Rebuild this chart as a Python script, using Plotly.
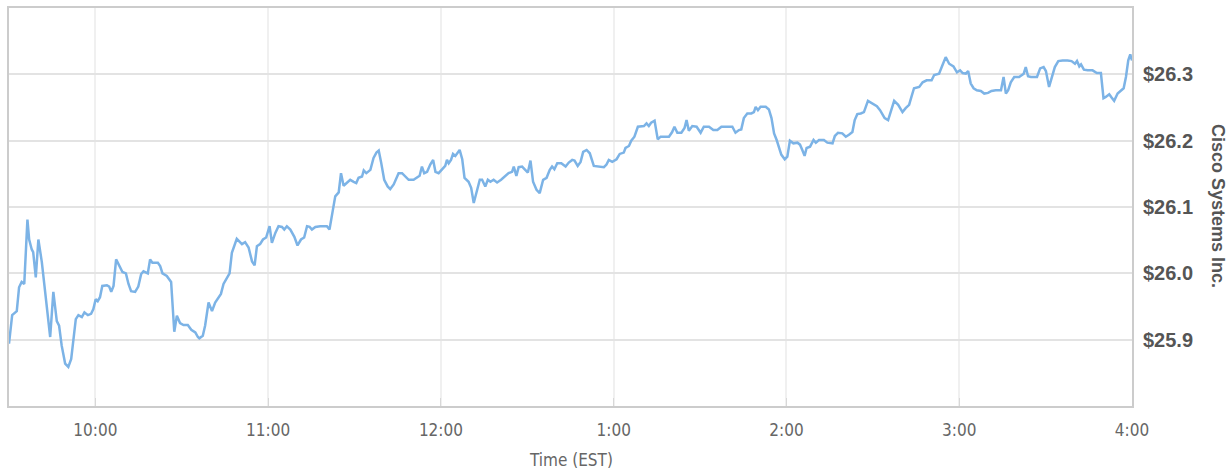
import plotly.graph_objects as go
import pandas as pd

# minutes after the 9:30 open, and Cisco price
minutes_a = [0, 1.1, 2.7, 3.5, 4.4, 5.3, 6.4, 7.0, 7.9, 8.4, 9.3, 10.2, 11.4, 13.1, 14.3, 15.4, 16.6, 17.4, 18.3, 19.5,
             20.6, 21.6, 22.3, 23.2, 24.1, 25.3, 26.2, 27.4, 28.5, 29.3, 30.1, 30.8, 31.6, 32.4, 34.0, 34.8, 35.5, 36.3,
             37.2, 38.6, 39.4, 40.6, 41.5, 42.4, 43.8, 44.9, 45.9, 46.7, 48.2, 49.0, 49.8, 51.7, 52.5, 53.3, 54.8, 56.3,
             56.8, 57.4, 58.3, 59.4, 60.6, 62.1, 63.3, 64.7, 65.6]
price_a = [25.894, 25.937, 25.943, 25.979, 25.987, 25.984, 26.081, 26.051, 26.036, 26.032, 25.994, 26.051, 26.017,
           25.946, 25.904, 25.972, 25.928, 25.921, 25.891, 25.864, 25.859, 25.871, 25.896, 25.931, 25.937, 25.934,
           25.941, 25.937, 25.939, 25.946, 25.961, 25.958, 25.964, 25.981, 25.982, 25.980, 25.972, 25.981, 26.021,
           26.009, 26.002, 26.000, 25.984, 25.973, 25.972, 25.980, 25.999, 26.003, 26.000, 26.021, 26.016, 26.016,
           26.011, 26.000, 25.996, 25.987, 25.946, 25.912, 25.936, 25.925, 25.922, 25.922, 25.915, 25.911, 25.904]

minutes_b = [66.1, 67.3, 68.1, 69.3, 70.5, 71.6, 72.7, 73.6, 74.5, 75.9, 76.6, 77.4, 79.1, 80.9, 82.0, 83.2, 84.4, 85.3,
             86.1, 87.2, 88.2, 89.3, 90.5, 91.3, 92.5, 93.6, 94.8, 95.6, 96.5, 97.7, 99.1, 100.2, 101.4, 102.5, 103.5,
             104.4, 105.2, 106.4, 108.1, 110.4, 111.3, 112.5, 113.3, 114.5, 115.3, 116.2, 117.4, 118.5, 119.7, 120.6,
             121.4, 122.6, 123.2, 124.1, 125.5, 126.6, 127.6, 128.4, 129.2, 130.3, 131.5, 132.4]
price_b = [25.902, 25.906, 25.921, 25.956, 25.943, 25.956, 25.964, 25.969, 25.984, 25.996, 26.000, 26.031, 26.052,
           26.044, 26.047, 26.039, 26.018, 26.012, 26.041, 26.044, 26.051, 26.054, 26.071, 26.046, 26.061, 26.071,
           26.070, 26.066, 26.071, 26.066, 26.055, 26.042, 26.051, 26.054, 26.071, 26.070, 26.066, 26.070, 26.071,
           26.071, 26.066, 26.096, 26.116, 26.122, 26.151, 26.132, 26.136, 26.141, 26.138, 26.136, 26.144, 26.146,
           26.155, 26.151, 26.156, 26.174, 26.182, 26.185, 26.168, 26.141, 26.131, 26.127]

minutes_c = [133.6, 135.3, 136.5, 137.6, 138.8, 140.5, 141.7, 142.6, 143.4, 144.2, 145.2, 146.3, 147.3, 148.1, 149.2,
             150.4, 151.5, 152.1, 152.7, 153.5, 154.2, 155.0, 155.8, 156.5, 157.4, 158.2, 159.6, 160.5, 161.4, 162.6,
             163.5, 164.3, 165.4, 166.3, 167.2, 168.3, 169.5, 170.9, 172.1, 173.5, 174.7, 175.3, 176.2, 177.0, 178.2,
             179.4, 180.2, 181.1, 182.0, 183.2, 184.3, 185.5, 186.7, 187.8, 188.6, 189.4, 190.4, 191.8]
price_c = [26.134, 26.151, 26.151, 26.146, 26.141, 26.141, 26.144, 26.147, 26.161, 26.151, 26.153, 26.164, 26.171,
           26.153, 26.151, 26.156, 26.162, 26.171, 26.166, 26.171, 26.180, 26.177, 26.181, 26.186, 26.172, 26.144,
           26.138, 26.129, 26.106, 26.126, 26.141, 26.141, 26.131, 26.141, 26.138, 26.141, 26.137, 26.141, 26.146,
           26.151, 26.153, 26.161, 26.147, 26.160, 26.161, 26.156, 26.152, 26.170, 26.138, 26.126, 26.121, 26.141,
           26.144, 26.156, 26.161, 26.157, 26.166, 26.166]

minutes_d = [193.3, 194.4, 195.6, 196.4, 197.5, 198.5, 199.4, 200.6, 201.7, 203.1, 204.8, 206.6, 207.5, 208.3, 209.5,
             211.0, 212.1, 213.5, 214.1, 215.3, 216.1, 217.2, 218.4, 219.6, 220.5, 221.4, 222.2, 223.0, 224.2, 225.3,
             226.3, 228.0, 229.2, 230.3, 231.1, 232.1, 233.5, 234.6, 235.3, 236.1, 237.3, 238.8, 240.2, 241.3, 243.1,
             244.6, 246.0, 247.4, 249.5, 251.2, 252.3, 253.5, 254.3, 255.2, 256.4, 257.8, 258.7, 259.3, 260.1, 261.0,
             262.8, 263.9, 264.8]
price_d = [26.161, 26.167, 26.171, 26.170, 26.162, 26.168, 26.183, 26.186, 26.181, 26.162, 26.161, 26.160, 26.164,
           26.171, 26.168, 26.172, 26.180, 26.182, 26.189, 26.192, 26.200, 26.206, 26.221, 26.221, 26.222, 26.226,
           26.222, 26.227, 26.230, 26.202, 26.206, 26.206, 26.206, 26.213, 26.221, 26.212, 26.212, 26.219, 26.231,
           26.215, 26.222, 26.221, 26.212, 26.221, 26.221, 26.216, 26.216, 26.221, 26.221, 26.221, 26.212, 26.216,
           26.217, 26.234, 26.241, 26.241, 26.243, 26.251, 26.246, 26.251, 26.251, 26.247, 26.234]

minutes_e = [265.7, 266.6, 267.4, 268.2, 269.4, 270.3, 271.2, 272.4, 273.8, 274.7, 275.5, 276.3, 277.0, 278.2, 279.4,
             280.2, 281.3, 283.0, 284.2, 286.0, 286.8, 287.9, 289.4, 290.6, 291.7, 292.9, 293.7, 294.6, 295.8, 296.9,
             298.3, 299.9, 301.4, 302.5, 304.1, 305.3, 306.2, 307.4, 308.8, 310.3, 311.4, 312.6, 313.4, 314.3, 316.1,
             317.3, 318.7, 320.4, 321.3, 323.0, 324.2, 325.3, 326.5, 328.0, 329.2, 330.3]
price_e = [26.211, 26.201, 26.191, 26.179, 26.172, 26.176, 26.200, 26.196, 26.197, 26.194, 26.186, 26.177, 26.189,
           26.191, 26.201, 26.197, 26.201, 26.201, 26.197, 26.196, 26.207, 26.212, 26.211, 26.206, 26.209, 26.213,
           26.231, 26.240, 26.241, 26.243, 26.260, 26.256, 26.252, 26.246, 26.234, 26.231, 26.243, 26.260, 26.254,
           26.243, 26.249, 26.254, 26.266, 26.279, 26.281, 26.288, 26.291, 26.291, 26.299, 26.301, 26.314, 26.326,
           26.316, 26.312, 26.303, 26.306]

minutes_f = [331.2, 332.3, 333.1, 334.0, 335.0, 336.1, 337.5, 338.7, 340.0, 341.2, 342.7, 344.5, 345.4, 346.2, 347.0,
             347.9, 349.1, 350.8, 352.4, 353.1, 353.9, 354.9, 357.0, 358.1, 359.3, 360.1, 361.2, 362.1, 363.2, 364.4,
             365.9, 367.6, 369.0, 370.2, 370.9, 371.7, 372.3, 373.3, 374.6, 376.3, 377.8, 379.2, 380.1, 380.9, 382.1,
             382.9, 383.8, 385.0, 386.2, 387.1, 387.9, 388.7, 389.4, 390.0]
price_f = [26.302, 26.301, 26.305, 26.286, 26.279, 26.276, 26.275, 26.271, 26.272, 26.275, 26.276, 26.276, 26.296,
           26.271, 26.276, 26.288, 26.296, 26.296, 26.301, 26.311, 26.297, 26.296, 26.296, 26.309, 26.311, 26.305,
           26.281, 26.296, 26.311, 26.320, 26.321, 26.321, 26.320, 26.316, 26.320, 26.312, 26.315, 26.307, 26.306,
           26.306, 26.302, 26.302, 26.264, 26.266, 26.270, 26.265, 26.260, 26.271, 26.276, 26.279, 26.296, 26.321,
           26.330, 26.321]

hour_ticks = ["10:00", "11:00", "12:00", "13:00", "14:00", "15:00", "16:00"]
hour_labels = ["10:00", "11:00", "12:00", "1:00", "2:00", "3:00", "4:00"]
price_ticks = [25.9, 26.0, 26.1, 26.2, 26.3]
price_labels = ["$25.9", "$26.0", "$26.1", "$26.2", "$26.3"]
series_name = "Cisco Systems Inc."
x_title = "Time (EST)"
session_day = "2024-01-02"

minutes = minutes_a + minutes_b + minutes_c + minutes_d + minutes_e + minutes_f
prices = price_a + price_b + price_c + price_d + price_e + price_f
assert len(minutes) == len(prices), (len(minutes), len(prices))

open_ts = pd.Timestamp(f"{session_day} 09:30")
times = open_ts + pd.to_timedelta(minutes, unit="m")
tick_ts = [pd.Timestamp(f"{session_day} {h}") for h in hour_ticks]

narrow = "Liberation Sans Narrow, DejaVu Sans Condensed, Roboto Condensed, Roboto"

fig = go.Figure()
fig.add_trace(go.Scatter(
    x=times, y=prices, mode="lines", name=series_name,
    line=dict(color="#7cb3e6", width=2.5),
    hoverinfo="x+y",
))

fig.update_layout(
    width=1231, height=469,
    margin=dict(l=9, r=99, t=6, b=63),
    paper_bgcolor="white", plot_bgcolor="white",
    showlegend=False,
    xaxis=dict(
        range=[open_ts, pd.Timestamp(f"{session_day} 16:00")],
        tickvals=tick_ts, ticktext=hour_labels,
        showgrid=True, gridcolor="#f0f0f0", gridwidth=2,
        showline=True, linecolor="#cccccc", linewidth=2, mirror=True,
        ticks="inside", ticklen=8, tickcolor="#d8d8d8", tickwidth=1,
        tickfont=dict(family=narrow, size=17, color="#666666"),
        ticklabelstandoff=8,
        zeroline=False,
    ),
    yaxis=dict(
        side="right",
        range=[25.8, 26.4],
        tickvals=price_ticks, ticktext=price_labels,
        showgrid=True, gridcolor="#e3e3e3", gridwidth=2,
        showline=True, linecolor="#cccccc", linewidth=2, mirror=True,
        ticks="",
        tickfont=dict(family="Liberation Sans, Arial", size=20, color="#555555", weight="bold"),
        ticklabelstandoff=5,
        zeroline=False,
    ),
    annotations=[
        dict(text=series_name, xref="paper", yref="paper", x=1.0766, y=0.5025,
             textangle=90, showarrow=False, xanchor="center", yanchor="middle",
             font=dict(family="Liberation Sans, Arial", size=18, color="#555555", weight="bold")),
        dict(text=x_title, xref="paper", yref="paper", x=0.5, y=-0.135,
             showarrow=False, xanchor="center", yanchor="middle",
             font=dict(family=narrow, size=17, color="#666666")),
    ],
)

fig.write_html("out.html", config={"displayModeBar": False},
               post_script="document.body.style.margin='0';document.body.style.padding='0';")
